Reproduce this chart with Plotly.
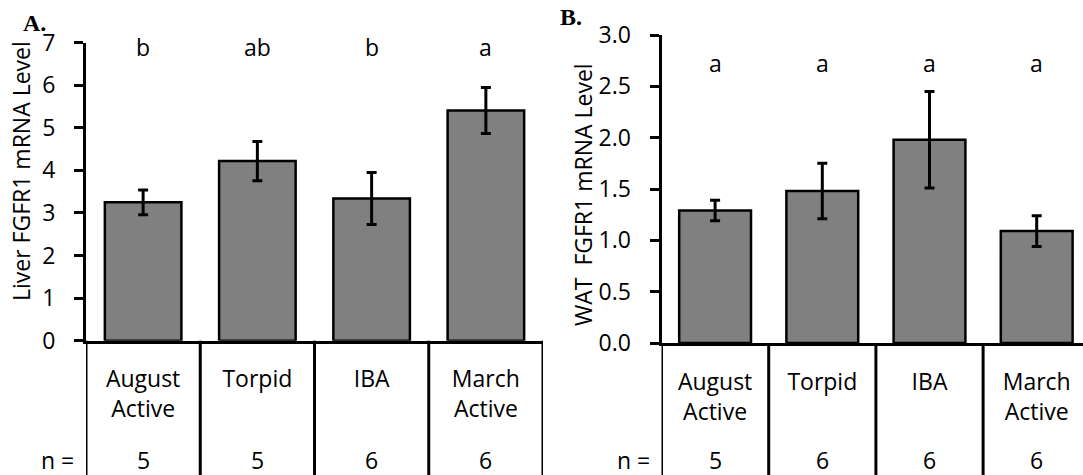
import plotly.graph_objects as go

# ---- data ----
categories = ["August<br>Active", "Torpid", "IBA", "March<br>Active"]
liver_mean = [3.25, 4.22, 3.34, 5.41]
liver_err = [0.29, 0.46, 0.61, 0.54]
liver_letters = ["b", "ab", "b", "a"]
liver_n = [5, 5, 6, 6]

wat_mean = [1.29, 1.48, 1.98, 1.09]
wat_err = [0.10, 0.27, 0.47, 0.15]
wat_letters = ["a", "a", "a", "a"]
wat_n = [5, 6, 6, 6]

W, H = 1083, 475
FONT = "Open Sans"
FS = 23
pos = list(range(len(categories)))

fig = go.Figure()
bar_style = dict(marker=dict(color="#808080", line=dict(color="black", width=2.5)), width=0.67)
err_style = dict(type="data", color="black", thickness=3, width=5)

fig.add_trace(go.Bar(x=pos, y=liver_mean, error_y=dict(array=liver_err, **err_style),
                     xaxis="x", yaxis="y", **bar_style))
fig.add_trace(go.Bar(x=pos, y=wat_mean, error_y=dict(array=wat_err, **err_style),
                     xaxis="x2", yaxis="y2", **bar_style))

ax_common = dict(showline=True, linecolor="black", linewidth=3, showgrid=False, zeroline=False,
                 automargin=False, fixedrange=True,
                 tickfont=dict(family=FONT, size=FS, color="black"))

A_x = [86 / W, 543 / W]
A_y = [(H - 340.7) / H, (H - 42.7) / H]
B_x = [661.5 / W, 1.0]
B_y = [(H - 343) / H, (H - 35) / H]

fig.update_layout(
    width=W, height=H, margin=dict(l=0, r=0, t=0, b=0, autoexpand=False),
    paper_bgcolor="white", plot_bgcolor="white", showlegend=False,
    font=dict(family=FONT, color="black"),
    xaxis=dict(domain=A_x, range=[-0.5, 3.5], tickvals=pos, ticktext=categories, ticks="",
               anchor="y", ticklabelstandoff=16, **ax_common),
    yaxis=dict(domain=A_y, range=[0, 7], dtick=1, ticks="outside", ticklen=9, tickwidth=3,
               tickcolor="black", anchor="x", ticklabelstandoff=14, **ax_common),
    xaxis2=dict(domain=B_x, range=[-0.5, -0.5 + (W - 661.5) / 107.2], tickvals=pos, ticktext=categories,
                ticks="", anchor="y2", ticklabelstandoff=16, **ax_common),
    yaxis2=dict(domain=B_y, range=[0, 3], dtick=0.5, tickformat=".1f", ticks="outside", ticklen=9,
                tickwidth=3, tickcolor="black", anchor="x2", ticklabelstandoff=14, **ax_common),
)

shapes = []
annotations = []
txt = dict(family=FONT, size=FS, color="black")
N_Y = (H - 460) / H
for xref, ydom, ns, letters, ly in [("x", A_y, liver_n, liver_letters, 6.9),
                                      ("x2", B_y, wat_n, wat_letters, 2.73)]:
    yref = "y" if xref == "x" else "y2"
    for b in [p - 0.5 for p in pos] + [pos[-1] + 0.5]:
        shapes.append(dict(type="line", xref=xref, yref="paper", x0=b, x1=b, y0=-0.05, y1=ydom[0],
                           line=dict(color="black", width=3)))
    for p, n, let in zip(pos, ns, letters):
        annotations.append(dict(x=p, xref=xref, y=N_Y, yref="paper", text=str(n), showarrow=False,
                                yanchor="middle", font=txt))
        annotations.append(dict(x=p, xref=xref, y=ly, yref=yref, text=let, showarrow=False,
                                yanchor="middle", font=txt))

annotations.append(dict(x=76 / W, xref="paper", y=N_Y, yref="paper", text="n =", showarrow=False,
                        xanchor="right", yanchor="middle", font=txt))
annotations.append(dict(x=652 / W, xref="paper", y=N_Y, yref="paper", text="n =", showarrow=False,
                        xanchor="right", yanchor="middle", font=txt))
annotations.append(dict(x=21 / W, xref="paper", y=(H - 171) / H, yref="paper",
                        text="Liver FGFR1 mRNA Level", textangle=-90, showarrow=False,
                        xanchor="center", yanchor="middle", font=txt))
annotations.append(dict(x=583 / W, xref="paper", y=(H - 195) / H, yref="paper",
                        text="WAT\u00a0 FGFR1 mRNA Level", textangle=-90, showarrow=False,
                        xanchor="center", yanchor="middle", font=txt))
annotations.append(dict(x=34 / W, xref="paper", y=(H - 23) / H, yref="paper", text="<b>A.</b>",
                        showarrow=False, xanchor="center", yanchor="middle",
                        font=dict(family="Liberation Serif", size=24, color="black")))
annotations.append(dict(x=571 / W, xref="paper", y=(H - 17) / H, yref="paper", text="<b>B.</b>",
                        showarrow=False, xanchor="center", yanchor="middle",
                        font=dict(family="Liberation Serif", size=24, color="black")))

fig.update_layout(shapes=shapes, annotations=annotations)
fig.write_html("out.html")
